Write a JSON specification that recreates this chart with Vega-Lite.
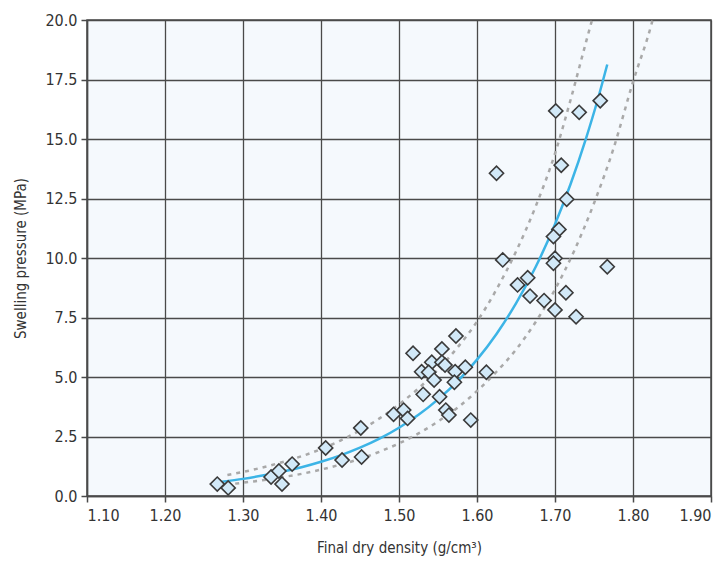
{
  "$schema": "https://vega.github.io/schema/vega-lite/v6.json",
  "width": 624,
  "height": 476,
  "autosize": {"type": "none"},
  "padding": {"left": 87, "top": 20, "right": 13, "bottom": 67},
  "background": "white",
  "config": {
    "view": {"fill": "#f5f9fd", "stroke": "#4a4a4a", "strokeWidth": 1.5},
    "axis": {
      "labelFont": "DejaVu Sans Condensed, Roboto, sans-serif",
      "titleFont": "DejaVu Sans Condensed, Roboto, sans-serif",
      "labelFontSize": 16,
      "titleFontSize": 15,
      "titleFontWeight": "normal",
      "labelColor": "#333",
      "titleColor": "#333",
      "gridColor": "#4a4a4a",
      "gridWidth": 1.3,
      "gridOpacity": 1,
      "domainColor": "#4a4a4a",
      "domainWidth": 1.5,
      "tickColor": "#4a4a4a",
      "tickWidth": 1.5,
      "tickSize": 6
    }
  },
  "datasets": {
    "pts": [
      {"x": 1.267, "y": 0.50}, {"x": 1.281, "y": 0.34}, {"x": 1.336, "y": 0.80}, {"x": 1.346, "y": 1.05},
      {"x": 1.350, "y": 0.50}, {"x": 1.363, "y": 1.34}, {"x": 1.406, "y": 2.02}, {"x": 1.427, "y": 1.51},
      {"x": 1.451, "y": 2.86}, {"x": 1.452, "y": 1.64},
      {"x": 1.493, "y": 3.43}, {"x": 1.506, "y": 3.61}, {"x": 1.511, "y": 3.26}, {"x": 1.518, "y": 6.00},
      {"x": 1.555, "y": 6.18}, {"x": 1.573, "y": 6.72}, {"x": 1.542, "y": 5.62}, {"x": 1.555, "y": 5.62},
      {"x": 1.559, "y": 5.50}, {"x": 1.529, "y": 5.22}, {"x": 1.538, "y": 5.20}, {"x": 1.545, "y": 4.87},
      {"x": 1.572, "y": 5.22}, {"x": 1.585, "y": 5.41}, {"x": 1.612, "y": 5.20}, {"x": 1.571, "y": 4.78},
      {"x": 1.531, "y": 4.27}, {"x": 1.552, "y": 4.17}, {"x": 1.560, "y": 3.61}, {"x": 1.564, "y": 3.40},
      {"x": 1.592, "y": 3.19},
      {"x": 1.625, "y": 13.56}, {"x": 1.708, "y": 13.90}, {"x": 1.715, "y": 12.47}, {"x": 1.705, "y": 11.20},
      {"x": 1.698, "y": 10.90}, {"x": 1.700, "y": 9.99}, {"x": 1.698, "y": 9.78}, {"x": 1.633, "y": 9.92},
      {"x": 1.767, "y": 9.63}, {"x": 1.665, "y": 9.17}, {"x": 1.652, "y": 8.87}, {"x": 1.668, "y": 8.40},
      {"x": 1.686, "y": 8.21}, {"x": 1.714, "y": 8.54}, {"x": 1.700, "y": 7.82}, {"x": 1.727, "y": 7.53},
      {"x": 1.701, "y": 16.18}, {"x": 1.731, "y": 16.12}, {"x": 1.758, "y": 16.61}
    ],
    "fit": [
      {"x": 1.273, "y": 0.60}, {"x": 1.30, "y": 0.72}, {"x": 1.325, "y": 0.86}, {"x": 1.35, "y": 1.02},
      {"x": 1.375, "y": 1.21}, {"x": 1.40, "y": 1.44}, {"x": 1.425, "y": 1.71}, {"x": 1.45, "y": 2.03},
      {"x": 1.475, "y": 2.41}, {"x": 1.50, "y": 2.87}, {"x": 1.525, "y": 3.41}, {"x": 1.55, "y": 4.06},
      {"x": 1.575, "y": 4.82}, {"x": 1.60, "y": 5.73}, {"x": 1.625, "y": 6.81}, {"x": 1.65, "y": 8.09},
      {"x": 1.675, "y": 9.61}, {"x": 1.70, "y": 11.42}, {"x": 1.72, "y": 13.11}, {"x": 1.74, "y": 15.05},
      {"x": 1.755, "y": 16.68}, {"x": 1.767, "y": 18.13}
    ],
    "upper": [
      {"x": 1.28, "y": 0.88}, {"x": 1.30, "y": 1.01}, {"x": 1.325, "y": 1.20}, {"x": 1.35, "y": 1.42},
      {"x": 1.375, "y": 1.67}, {"x": 1.40, "y": 1.97}, {"x": 1.425, "y": 2.33}, {"x": 1.45, "y": 2.76},
      {"x": 1.475, "y": 3.26}, {"x": 1.50, "y": 3.85}, {"x": 1.525, "y": 4.52}, {"x": 1.55, "y": 5.32},
      {"x": 1.575, "y": 6.24}, {"x": 1.60, "y": 7.33}, {"x": 1.625, "y": 8.68}, {"x": 1.65, "y": 10.27},
      {"x": 1.675, "y": 12.15}, {"x": 1.70, "y": 14.39}, {"x": 1.72, "y": 16.65}, {"x": 1.74, "y": 19.10},
      {"x": 1.755, "y": 20.9}
    ],
    "lower": [
      {"x": 1.29, "y": 0.52}, {"x": 1.30, "y": 0.56}, {"x": 1.325, "y": 0.66}, {"x": 1.35, "y": 0.79},
      {"x": 1.375, "y": 0.93}, {"x": 1.40, "y": 1.11}, {"x": 1.425, "y": 1.32}, {"x": 1.45, "y": 1.56},
      {"x": 1.475, "y": 1.86}, {"x": 1.50, "y": 2.21}, {"x": 1.525, "y": 2.63}, {"x": 1.55, "y": 3.13},
      {"x": 1.575, "y": 3.71}, {"x": 1.60, "y": 4.41}, {"x": 1.625, "y": 5.22}, {"x": 1.65, "y": 6.15},
      {"x": 1.675, "y": 7.30}, {"x": 1.70, "y": 8.68}, {"x": 1.725, "y": 10.33}, {"x": 1.75, "y": 12.3},
      {"x": 1.775, "y": 14.6}, {"x": 1.80, "y": 17.4}, {"x": 1.824, "y": 19.86}, {"x": 1.832, "y": 20.9}
    ]
  },
  "encoding": {
    "x": {
      "field": "x", "type": "quantitative",
      "scale": {"domain": [1.1, 1.9], "nice": false, "zero": false},
      "axis": {"values": [1.1, 1.2, 1.3, 1.4, 1.5, 1.6, 1.7, 1.8, 1.9], "format": ".2f", "title": "Final dry density (g/cm³)", "labelPadding": 5, "titlePadding": 17}
    },
    "y": {
      "field": "y", "type": "quantitative",
      "scale": {"domain": [0, 20], "nice": false},
      "axis": {"values": [0, 2.5, 5, 7.5, 10, 12.5, 15, 17.5, 20], "format": ".1f", "title": "Swelling pressure (MPa)", "labelPadding": 4, "titlePadding": 16}
    }
  },
  "layer": [
    {"data": {"name": "upper"}, "mark": {"type": "line", "clip": true, "interpolate": "monotone", "color": "#a9a9a9", "strokeWidth": 2.5, "strokeDash": [4, 5]}},
    {"data": {"name": "lower"}, "mark": {"type": "line", "clip": true, "interpolate": "monotone", "color": "#a9a9a9", "strokeWidth": 2.5, "strokeDash": [4, 5]}},
    {"data": {"name": "fit"}, "mark": {"type": "line", "interpolate": "monotone", "color": "#3cb4e6", "strokeWidth": 2.5}},
    {"data": {"name": "pts"}, "mark": {"type": "point", "shape": "diamond", "filled": true, "size": 200, "fill": "#d2e9f8", "stroke": "#3a3a3a", "strokeWidth": 1.6, "opacity": 1}}
  ]
}
